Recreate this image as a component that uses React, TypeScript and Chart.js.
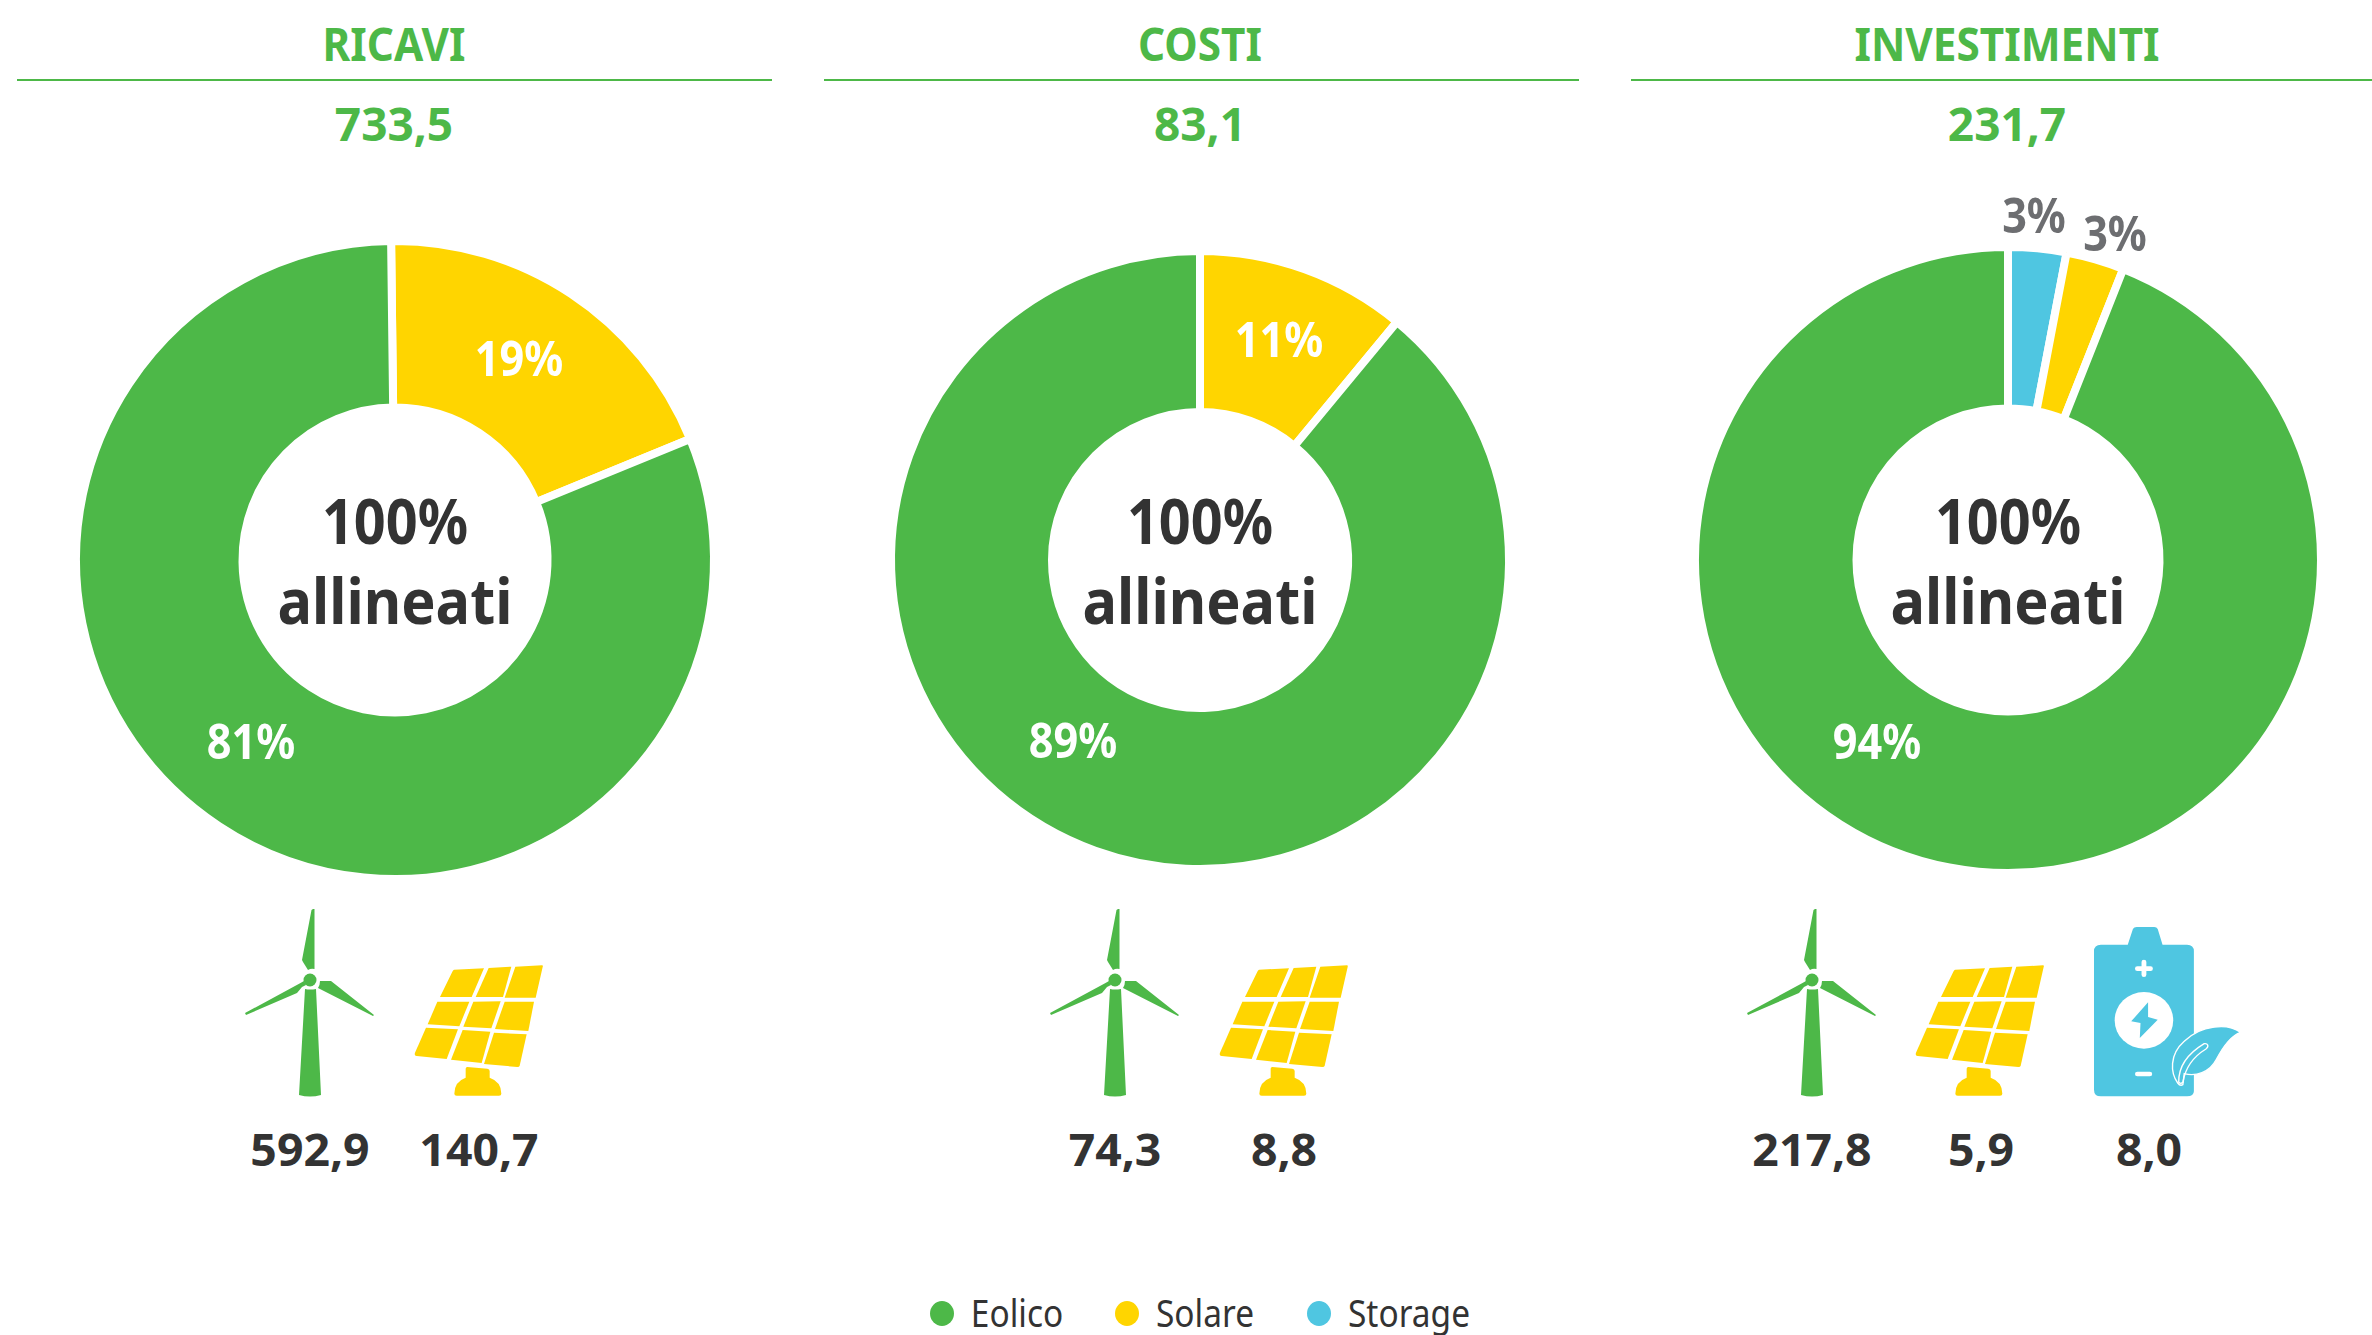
import React, { useEffect, useRef } from "react";
import { Chart, registerables } from "chart.js";

Chart.register(...registerables);

const GREEN = "#4DB848";
const YELLOW = "#FFD500";
const BLUE = "#4FC6E1";
const DARK = "#333333";
const GREY = "#6D6E71";
const FONT = '"Noto Sans", sans-serif';

const panelTitles = ["RICAVI", "COSTI", "INVESTIMENTI"];
const panelTotals = ["733,5", "83,1", "231,7"];
const centerLine1 = "100%";
const centerLine2 = "allineati";

const ricaviShares = [19, 81];
const ricaviColors = [YELLOW, GREEN];
const costiShares = [11, 89];
const costiColors = [YELLOW, GREEN];
const investimentiShares = [3, 3, 94];
const investimentiColors = [BLUE, YELLOW, GREEN];

const ricaviValues = ["592,9", "140,7"];
const costiValues = ["74,3", "8,8"];
const investimentiValues = ["217,8", "5,9", "8,0"];

const legendLabels = ["Eolico", "Solare", "Storage"];
const legendColors = [GREEN, YELLOW, BLUE];

const donuts = [
  { cx: 394.5, cy: 559.5, r: 315, inner: 156.5, gap: 8, rot: -0.7, shares: ricaviShares, colors: ricaviColors },
  { cx: 1199.5, cy: 560, r: 305, inner: 152, gap: 8, rot: 0, shares: costiShares, colors: costiColors },
  { cx: 2007.5, cy: 559.5, r: 309, inner: 155.5, gap: 8, rot: 0, shares: investimentiShares, colors: investimentiColors },
];

const headers = [
  { x1: 17, x2: 772, tx: 394 },
  { x1: 824, x2: 1579, tx: 1200 },
  { x1: 1631, x2: 2372, tx: 2007 },
];

type Lbl = { t: string; x: number; y: number; c: string };
const shareLabels: Lbl[] = [
  { t: "19%", x: 519, y: 358, c: "#fff" },
  { t: "81%", x: 251, y: 741, c: "#fff" },
  { t: "11%", x: 1279, y: 339, c: "#fff" },
  { t: "89%", x: 1073, y: 740, c: "#fff" },
  { t: "3%", x: 2034, y: 215, c: GREY },
  { t: "3%", x: 2115, y: 233, c: GREY },
  { t: "94%", x: 1877, y: 741, c: "#fff" },
];

const valueLabels: { t: string; x: number }[] = [
  { t: ricaviValues[0], x: 310 },
  { t: ricaviValues[1], x: 479 },
  { t: costiValues[0], x: 1115 },
  { t: costiValues[1], x: 1284 },
  { t: investimentiValues[0], x: 1812 },
  { t: investimentiValues[1], x: 1981 },
  { t: investimentiValues[2], x: 2149 },
];

function Text(p: { x: number; y: number; size: number; weight: number; color: string; children: any; sx?: number }) {
  return (
    <div
      style={{
        position: "absolute",
        left: p.x,
        top: p.y,
        transform: `translate(-50%,-50%) scaleX(${p.sx ?? 0.9})`,
        font: `${p.weight} ${p.size}px ${FONT}`,
        color: p.color,
        whiteSpace: "nowrap",
        lineHeight: 1,
      }}
    >
      {p.children}
    </div>
  );
}

function Turbine({ x }: { x: number }) {
  return (
    <svg style={{ position: "absolute", left: x - 70, top: 900 }} width={140} height={200} viewBox="0 0 140 200">
      <g fill={GREEN}>
        <circle cx="70" cy="80" r="6.5" />
        <path d="M73 9 L74.5 9 L74.5 69 Q71 68 68 70 L63 62 L62 60 L71.5 10 Z" />
        <path d="M66 85 L62 87 L57 93 L6 115 L5 113 L60.5 83 L64 81 Z" />
        <path d="M80 81 L91 81 L134 115 L133 116 L78 88 Q80 85 80 81 Z" />
        <path d="M65 89 Q70 90 76 89 L81 195 Q70 198 59 195 Z" />
      </g>
    </svg>
  );
}

function SolarPanel({ x }: { x: number }) {
  const q = [
    "M120 6 L210 2 L173 88 L78 88 L115 12 Q117 7 120 6 Z",
    "M224 1 L292 -3 L267 88 L185 88 Z",
    "M304 -3 L384 -7 Q388 -7 386 -2 L365 90 L272 90 Z",
    "M70 102 L166 102 L136 176 L41 170 Z",
    "M178 102 L260 101 L232 182 L148 177 Z",
    "M272 102 L360 102 L343 190 L243 184 Z",
    "M36 180 L132 185 L98 274 L8 265 Q0 263 3 255 Z",
    "M146 187 L229 192 L203 286 L111 276 Z",
    "M240 195 L338 200 L317 294 Q316 298 310 298 L210 289 Z",
  ];
  return (
    <svg style={{ position: "absolute", left: x, top: 965 }} width={131} height={140} viewBox="0 -8 393 420">
      <g fill={YELLOW}>
        {q.map((d, i) => <path key={i} d={d} />)}
        <path d="M160 298 L220 303 Q227 304 227 310 L227 330 Q262 342 262 378 Q262 384 255 384 L128 384 Q121 384 121 378 Q121 342 155 330 L155 303 Q155 298 160 298 Z" />
      </g>
    </svg>
  );
}

function Battery({ x }: { x: number }) {
  return (
    <svg style={{ position: "absolute", left: x, top: 923 }} width={155} height={180} viewBox="0 0 450 540" preserveAspectRatio="none">
      <path
        fill={BLUE}
        d="M20 65 L98 65 L113 18 Q116 12 124 12 L175 12 Q182 12 185 18 L199 65 L270 65 Q290 65 290 85 L290 505 Q290 520 270 520 L20 520 Q0 520 0 500 L0 85 Q0 65 20 65 Z"
      />
      <g fill="#fff">
        <rect x="119" y="130" width="52" height="14" rx="7" />
        <rect x="138" y="110" width="14" height="52" rx="7" />
        <rect x="119" y="446" width="50" height="14" rx="7" />
        <circle cx="145" cy="292" r="85" />
      </g>
      <path fill={BLUE} d="M157 238 L108 295 L135 300 L133 345 L185 290 L157 282 Z" />
      <path
        fill={BLUE}
        stroke="#fff"
        strokeWidth="4"
        d="M243 480 C222 450 218 395 262 355 C310 305 390 300 425 328 C395 340 375 370 355 410 C335 450 295 460 262 452 L258 485 Q250 490 243 480 Z"
      />
      <path fill="none" stroke="#fff" strokeWidth="4" d="M246 478 C245 430 275 390 320 362 C330 360 335 370 325 378 C290 400 265 435 258 478 Q252 484 246 478 Z" />
    </svg>
  );
}

function Donut({ d }: { d: (typeof donuts)[number] }) {
  const ref = useRef<HTMLCanvasElement>(null);
  const size = 2 * d.r + 40;
  useEffect(() => {
    const outer = d.r + d.gap / 2;
    const hole = d.inner - d.gap / 2;
    const chart = new Chart(ref.current!, {
      type: "doughnut",
      data: {
        labels: d.shares.map((_, i) => String(i)),
        datasets: [
          {
            data: d.shares,
            backgroundColor: d.colors,
            borderColor: "#ffffff",
            borderWidth: d.gap,
          },
        ],
      },
      options: {
        animation: false,
        responsive: false,
        rotation: d.rot,
        radius: outer,
        cutout: `${(hole / outer) * 100}%`,
        layout: { padding: 0 },
        plugins: { legend: { display: false }, tooltip: { enabled: false } },
      } as any,
    });
    return () => chart.destroy();
  }, []);
  return (
    <canvas
      ref={ref}
      width={size}
      height={size}
      style={{ position: "absolute", left: d.cx - size / 2, top: d.cy - size / 2, width: size, height: size }}
    />
  );
}

export default function App() {
  return (
    <div style={{ position: "fixed", left: 0, top: 0, width: 2372, height: 1335, background: "#fff", overflow: "hidden" }}>
      {donuts.map((d, i) => <Donut key={i} d={d} />)}
      {headers.map((h, i) => (
        <React.Fragment key={i}>
          <div style={{ position: "absolute", left: h.x1, top: 79, width: h.x2 - h.x1, height: 2, background: GREEN }} />
          <Text x={h.tx} y={43} size={47} weight={700} color={GREEN}>{panelTitles[i]}</Text>
          <Text x={h.tx} y={123} size={46} weight={700} color={GREEN} sx={1}>{panelTotals[i]}</Text>
          <Text x={donuts[i].cx} y={520} size={62} weight={700} color={DARK}>{centerLine1}</Text>
          <Text x={donuts[i].cx} y={600} size={62} weight={700} color={DARK} sx={0.93}>{centerLine2}</Text>
        </React.Fragment>
      ))}
      {shareLabels.map((l, i) => (
        <Text key={i} x={l.x} y={l.y} size={48} weight={700} color={l.c}>{l.t}</Text>
      ))}
      {valueLabels.map((l, i) => (
        <Text key={i} x={l.x} y={1148} size={45} weight={700} color={DARK} sx={1.03}>{l.t}</Text>
      ))}
      <Turbine x={310} />
      <Turbine x={1115} />
      <Turbine x={1812} />
      <SolarPanel x={414} />
      <SolarPanel x={1219} />
      <SolarPanel x={1915} />
      <Battery x={2094} />
      {legendLabels.map((l, i) => {
        const dotX = [942, 1127, 1319][i];
        const textX = [1017, 1205, 1409][i];
        return (
          <React.Fragment key={i}>
            <div style={{ position: "absolute", left: dotX - 12, top: 1301, width: 24, height: 25, borderRadius: "50%", background: legendColors[i] }} />
            <Text x={textX} y={1312} size={38} weight={400} color={DARK} sx={0.88}>{l}</Text>
          </React.Fragment>
        );
      })}
    </div>
  );
}
